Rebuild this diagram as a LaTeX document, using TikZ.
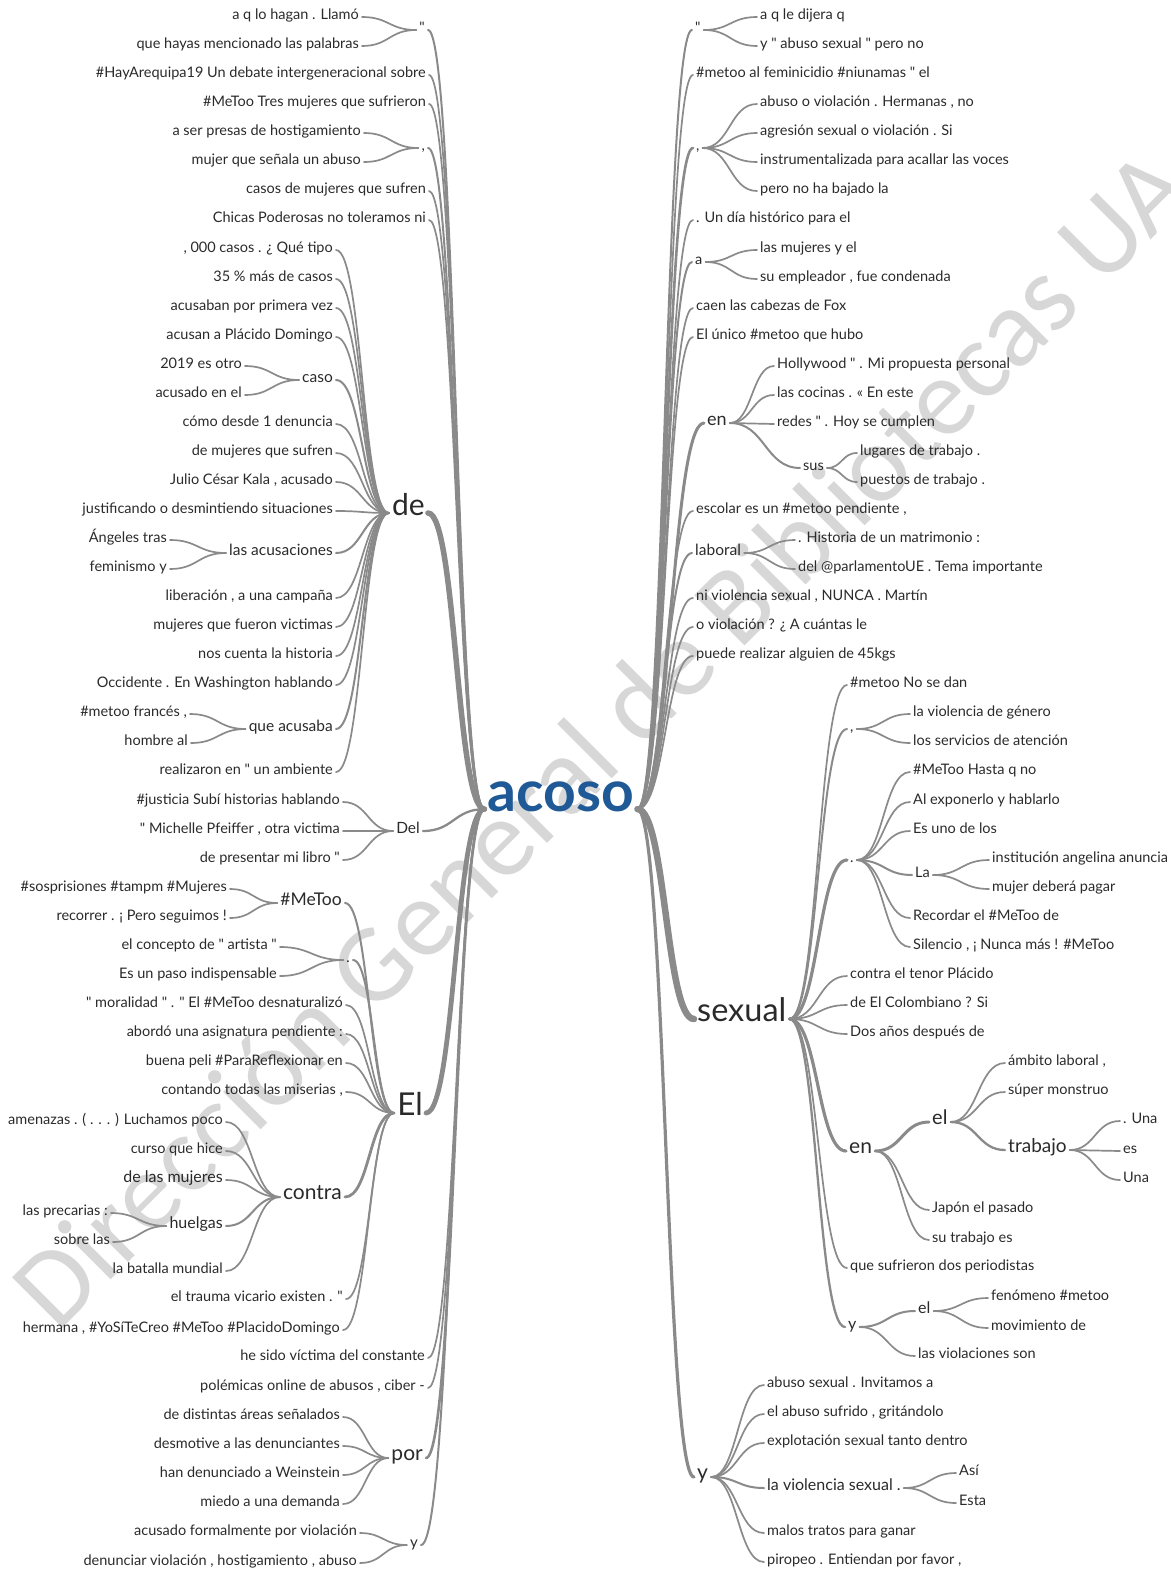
\documentclass[tikz,border=0pt]{standalone}
\usepackage{fontspec}
\setmainfont{Lato}[Ligatures=TeXOff]
\setsansfont{Carlito}
\usetikzlibrary{calc}
\definecolor{txt}{HTML}{2A2A2A}
\definecolor{lnk}{HTML}{8A8A8A}
\definecolor{acosoblue}{HTML}{1F5A96}
\definecolor{wmark}{HTML}{D7D7D7}
\newcommand\fs[1]{\fontsize{#1}{#1}\selectfont}
\newcommand\dq{\char"22\relax}
\tikzstyle{word}=[inner sep=0pt, text=txt, font=\fs{14.5}]
\tikzstyle{lw}=[word, anchor=mid east]
\tikzstyle{rw}=[word, anchor=mid west]
\tikzstyle{link}=[draw=lnk, line width=1.7pt, line cap=round, shorten <=3pt, shorten >=3pt]
% word tree connector: S-curve between two anchors
\newcommand\wl[3][]{\draw[link,#1] let \p1=(#2), \p2=(#3) in
  (\p1) .. controls ({(\x1+\x2)/2},\y1) and ({(\x1+\x2)/2},\y2) .. (\p2);}

\begin{document}
\begin{tikzpicture}[x=1pt,y=-1pt]
\useasboundingbox (0,0) rectangle (1170,1571);
\node[rotate=45, font=\sffamily\fs{111}, text=wmark] (wm) at (600,737) {Dirección General de Bibliotecas UA};

% root
\node[word, text=acosoblue, font=\fs{57}\bfseries] (acoso) at (561,797) {acoso};

% left half
\node[lw] (L1) at (359,17) {a q lo hagan . Llamó};
\node[lw] (L2) at (359,46) {que hayas mencionado las palabras};
\node[lw] (lq) at (425,30) {\dq};
\node[lw] (L3) at (426,75) {\#HayArequipa19 Un debate intergeneracional sobre};
\node[lw] (L4) at (426,104) {\#MeToo Tres mujeres que sufrieron};
\node[lw] (L5) at (361,133) {a ser presas de hostigamiento};
\node[lw] (L6) at (361,162) {mujer que señala un abuso};
\node[lw] (lc) at (425,148) {,};
\node[lw] (L7) at (426,191) {casos de mujeres que sufren};
\node[lw] (L8) at (426,220) {Chicas Poderosas no toleramos ni};
\node[lw] (L9) at (333,250) {, 000 casos . ¿ Qué tipo};
\node[lw] (L10) at (333,279) {35 \% más de casos};
\node[lw] (L11) at (333,308) {acusaban por primera vez};
\node[lw] (L12) at (333,337) {acusan a Plácido Domingo};
\node[lw] (L13) at (242,366) {2019 es otro};
\node[lw] (L14) at (242,395) {acusado en el};
\node[lw, font=\fs{15.5}] (caso) at (333,380) {caso};
\node[lw] (L15) at (333,424) {cómo desde 1 denuncia};
\node[lw] (L16) at (333,453) {de mujeres que sufren};
\node[lw] (L17) at (333,482) {Julio César Kala , acusado};
\node[lw] (L18) at (333,511) {justificando o desmintiendo situaciones};
\node[lw, font=\fs{30}] (de) at (425,513) {de};
\node[lw] (L19) at (167,540) {Ángeles tras};
\node[lw] (L20) at (167,569) {feminismo y};
\node[lw, font=\fs{15.5}] (acus) at (333,553) {las acusaciones};
\node[lw] (L21) at (333,598) {liberación , a una campaña};
\node[lw] (L22) at (333,627) {mujeres que fueron victimas};
\node[lw] (L23) at (333,656) {nos cuenta la historia};
\node[lw] (L24) at (333,685) {Occidente . En Washington hablando};
\node[lw] (L25) at (187,714) {\#metoo francés ,};
\node[lw] (L26) at (188,743) {hombre al};
\node[lw, font=\fs{15.5}] (qacus) at (333,729) {que acusaba};
\node[lw] (L27) at (333,772) {realizaron en \dq{} un ambiente};
\node[lw] (L28) at (340,802) {\#justicia Subí historias hablando};
\node[lw] (L29) at (340,831) {\dq{} Michelle Pfeiffer , otra victima};
\node[lw] (L30) at (340,860) {de presentar mi libro \dq};
\node[lw, font=\fs{15.5}] (Del) at (420,831) {Del};
\node[lw] (L31) at (227,889) {\#sosprisiones \#tampm \#Mujeres};
\node[lw] (L32) at (227,918) {recorrer . ¡ Pero seguimos !};
\node[lw, font=\fs{17.5}] (metoo) at (342,903) {\#MeToo};
\node[lw] (L33) at (277,947) {el concepto de \dq{} artista \dq};
\node[lw] (L34) at (277,976) {Es un paso indispensable};
\node[lw] (ldot) at (350,960) {.};
\node[lw] (L35) at (343,1005) {\dq{} moralidad \dq{} . \dq{} El \#MeToo desnaturalizó};
\node[lw] (L36) at (343,1034) {abordó una asignatura pendiente :};
\node[lw] (L37) at (343,1063) {buena peli \#ParaReflexionar en};
\node[lw] (L38) at (343,1092) {contando todas las miserias ,};
\node[lw] (L39) at (223,1122) {amenazas . ( . . . ) Luchamos poco};
\node[lw] (L40) at (223,1151) {curso que hice};
\node[lw, font=\fs{16}] (L41) at (223,1180) {de las mujeres};
\node[lw] (L42) at (108,1213) {las precarias :};
\node[lw] (L43) at (110,1242) {sobre las};
\node[lw, font=\fs{16}] (huelgas) at (223,1226) {huelgas};
\node[lw] (L44) at (223,1271) {la batalla mundial};
\node[lw, font=\fs{21}] (contra) at (342,1197) {contra};
\node[lw] (L45) at (343,1299) {el trauma vicario existen . \dq};
\node[lw] (L46) at (340,1330) {hermana , \#YoSíTeCreo \#MeToo \#PlacidoDomingo};
\node[lw, font=\fs{31.5}] (El) at (423,1113) {El};
\node[lw] (L47) at (425,1358) {he sido víctima del constante};
\node[lw] (L48) at (425,1388) {polémicas online de abusos , ciber -};
\node[lw] (L49) at (340,1417) {de distintas áreas señalados};
\node[lw] (L50) at (340,1446) {desmotive a las denunciantes};
\node[lw] (L51) at (340,1475) {han denunciado a Weinstein};
\node[lw] (L52) at (340,1504) {miedo a una demanda};
\node[lw, font=\fs{21}] (por) at (423,1458) {por};
\node[lw] (L53) at (357,1533) {acusado formalmente por violación};
\node[lw] (L54) at (357,1563) {denunciar violación , hostigamiento , abuso};
\node[lw, font=\fs{15}] (ly) at (418,1545) {y};

% right half
\node[rw] (rq) at (695,30) {\dq};
\node[rw] (R1) at (760,17) {a q le dijera q};
\node[rw] (R2) at (760,46) {y \dq{} abuso sexual \dq{} pero no};
\node[rw] (R3) at (696,75) {\#metoo al feminicidio \#niunamas \dq{} el};
\node[rw] (rc) at (696,148) {,};
\node[rw] (R4) at (760,104) {abuso o violación . Hermanas , no};
\node[rw] (R5) at (760,133) {agresión sexual o violación . Si};
\node[rw] (R6) at (760,162) {instrumentalizada para acallar las voces};
\node[rw] (R7) at (760,191) {pero no ha bajado la};
\node[rw] (R8) at (696,220) {. Un día histórico para el};
\node[rw] (ra) at (695,262) {a};
\node[rw] (R9) at (760,250) {las mujeres y el};
\node[rw] (R10) at (760,279) {su empleador , fue condenada};
\node[rw] (R11) at (696,308) {caen las cabezas de Fox};
\node[rw] (R12) at (696,337) {El único \#metoo que hubo};
\node[rw, font=\fs{18}] (ren) at (707,423) {en};
\node[rw] (R13) at (777,366) {Hollywood \dq{} . Mi propuesta personal};
\node[rw] (R14) at (777,395) {las cocinas . « En este};
\node[rw] (R15) at (777,424) {redes \dq{} . Hoy se cumplen};
\node[rw] (sus) at (803,468) {sus};
\node[rw] (R16) at (860,453) {lugares de trabajo .};
\node[rw] (R17) at (860,482) {puestos de trabajo .};
\node[rw] (R18) at (696,511) {escolar es un \#metoo pendiente ,};
\node[rw, font=\fs{15.5}] (laboral) at (695,553) {laboral};
\node[rw] (R19) at (798,540) {. Historia de un matrimonio :};
\node[rw] (R20) at (798,569) {del @parlamentoUE . Tema importante};
\node[rw] (R21) at (696,598) {ni violencia sexual , NUNCA . Martín};
\node[rw] (R22) at (696,627) {o violación ? ¿ A cuántas le};
\node[rw] (R23) at (696,656) {puede realizar alguien de 45kgs};
\node[rw, font=\fs{32.5}] (sexual) at (697,1019) {sexual};
\node[rw] (R24) at (850,685) {\#metoo No se dan};
\node[rw] (sc) at (850,729) {,};
\node[rw] (R25) at (913,714) {la violencia de género};
\node[rw] (R26) at (913,743) {los servicios de atención};
\node[rw] (sdot) at (850,860) {.};
\node[rw] (R27) at (913,772) {\#MeToo Hasta q no};
\node[rw] (R28) at (913,802) {Al exponerlo y hablarlo};
\node[rw] (R29) at (913,831) {Es uno de los};
\node[rw] (La) at (915,875) {La};
\node[rw] (R30) at (992,860) {institución angelina anuncia};
\node[rw] (R31) at (992,889) {mujer deberá pagar};
\node[rw] (R32) at (913,918) {Recordar el \#MeToo de};
\node[rw] (R33) at (913,947) {Silencio , ¡ Nunca más ! \#MeToo};
\node[rw] (R34) at (850,976) {contra el tenor Plácido};
\node[rw] (R35) at (850,1005) {de El Colombiano ? Si};
\node[rw] (R36) at (850,1034) {Dos años después de};
\node[rw, font=\fs{21}] (sen) at (849,1151) {en};
\node[rw, font=\fs{20}] (sel) at (932,1122) {el};
\node[rw] (R37) at (1008,1063) {ámbito laboral ,};
\node[rw] (R38) at (1008,1092) {súper monstruo};
\node[rw, font=\fs{19}] (trab) at (1008,1150) {trabajo};
\node[rw] (R39) at (1123,1121) {. Una};
\node[rw] (R40) at (1123,1151) {es};
\node[rw] (R41) at (1123,1180) {Una};
\node[rw] (R42) at (932,1210) {Japón el pasado};
\node[rw] (R43) at (932,1240) {su trabajo es};
\node[rw] (R44) at (850,1268) {que sufrieron dos periodistas};
\node[rw, font=\fs{16}] (sy) at (848,1327) {y};
\node[rw, font=\fs{16}] (syel) at (918,1311) {el};
\node[rw] (R45) at (991,1298) {fenómeno \#metoo};
\node[rw] (R46) at (991,1328) {movimiento de};
\node[rw] (R47) at (918,1356) {las violaciones son};
\node[rw, font=\fs{21}] (ry) at (697,1477) {y};
\node[rw] (R48) at (767,1385) {abuso sexual . Invitamos a};
\node[rw] (R49) at (767,1414) {el abuso sufrido , gritándolo};
\node[rw] (R50) at (767,1443) {explotación sexual tanto dentro};
\node[rw, font=\fs{16}] (violsex) at (767,1488) {la violencia sexual .};
\node[rw] (R51) at (959,1473) {Así};
\node[rw] (R52) at (959,1503) {Esta};
\node[rw] (R53) at (767,1533) {malos tratos para ganar};
\node[rw] (R54) at (767,1562) {piropeo . Entiendan por favor ,};

% left connectors: child -> parent
\foreach \ch/\pa in {L1/lq,L2/lq,L3/acoso,L4/acoso,L5/lc,L6/lc,L7/acoso,L8/acoso,
  L9/de,L10/de,L11/de,L12/de,L13/caso,L14/caso,L15/de,L16/de,L17/de,L18/de,
  L19/acus,L20/acus,L21/de,L22/de,L23/de,L24/de,L25/qacus,L26/qacus,L27/de,
  L28/Del,L29/Del,L30/Del,L31/metoo,L32/metoo,L33/ldot,L34/ldot,
  L35/El,L36/El,L37/El,L38/El,L39/contra,L40/contra,L41/contra,
  L42/huelgas,L43/huelgas,L44/contra,L45/El,L46/El,L47/acoso,L48/acoso,
  L49/por,L50/por,L51/por,L52/por,L53/ly,L54/ly}
  \wl{\ch.mid east}{\pa.mid west};
\foreach \ch/\pa/\w in {lq/acoso/2,lc/acoso/2,caso/de/2,acus/de/2,qacus/de/2,
  de/acoso/5.5,Del/acoso/2.3,metoo/El/2,ldot/El/2,huelgas/contra/2,
  contra/El/2.8,El/acoso/4.8,por/acoso/2.6,ly/acoso/2}
  \wl[line width=\w pt]{\ch.mid east}{\pa.mid west};

% right connectors: parent -> child
\foreach \pa/\ch in {acoso/R3,acoso/R8,acoso/R11,acoso/R12,acoso/R18,acoso/R21,
  acoso/R22,acoso/R23,rq/R1,rq/R2,rc/R4,rc/R5,rc/R6,rc/R7,ra/R9,ra/R10,
  ren/R13,ren/R14,ren/R15,sus/R16,sus/R17,laboral/R19,laboral/R20,
  sexual/R24,sc/R25,sc/R26,sdot/R27,sdot/R28,sdot/R29,La/R30,La/R31,
  sdot/R32,sdot/R33,sexual/R34,sexual/R35,sexual/R36,sel/R37,sel/R38,
  trab/R39,trab/R40,trab/R41,sen/R42,sen/R43,sexual/R44,syel/R45,syel/R46,
  sy/R47,ry/R48,ry/R49,ry/R50,violsex/R51,violsex/R52,ry/R53,ry/R54}
  \wl{\pa.mid east}{\ch.mid west};
\foreach \pa/\ch/\w in {acoso/rq/2,acoso/rc/2.6,acoso/ra/2,acoso/ren/3,ren/sus/2,
  acoso/laboral/2,acoso/sexual/6.5,sexual/sc/2,sexual/sdot/3.2,sdot/La/2,
  sexual/sen/3.2,sen/sel/3,sel/trab/2.3,sexual/sy/2.3,sy/syel/2,
  acoso/ry/3.2,ry/violsex/2}
  \wl[line width=\w pt]{\pa.mid east}{\ch.mid west};
\end{tikzpicture}
\end{document}
